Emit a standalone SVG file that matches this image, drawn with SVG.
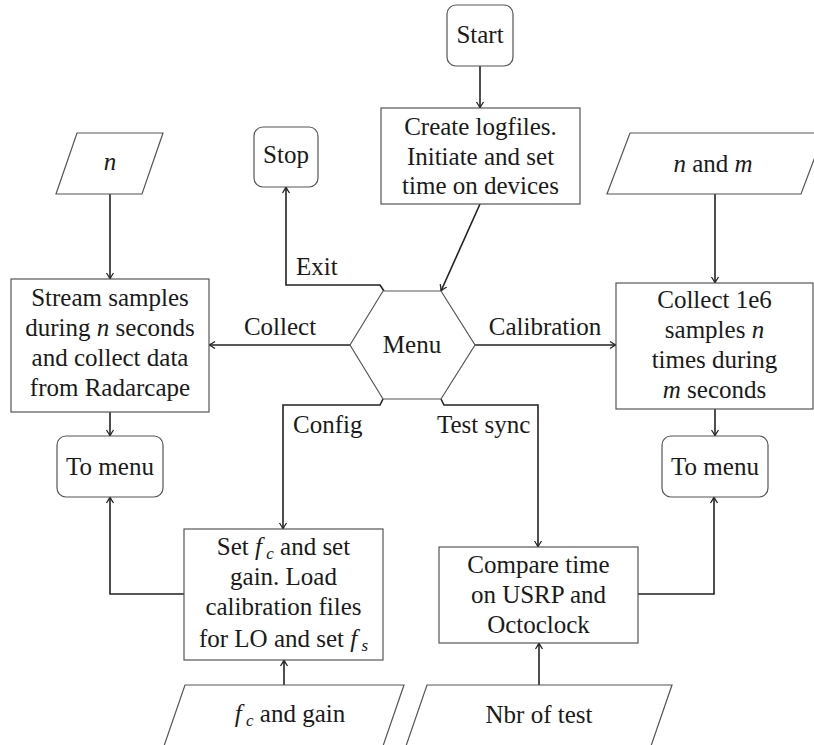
<svg xmlns="http://www.w3.org/2000/svg" width="814" height="745" viewBox="0 0 814 745">
<defs>
<style>
text{font-family:"Liberation Serif","Times New Roman",serif;font-size:25px;fill:#1a1a1a;text-anchor:middle}
.lab{text-anchor:start}
.box{fill:#fff;stroke:#555;stroke-width:1.2}
.con{fill:none;stroke:#222;stroke-width:1.6}
.i{font-style:italic}
.sub{font-style:italic;font-size:17px}
</style>
<marker id="arr" viewBox="-8 -5 10 10" refX="0" refY="0" markerWidth="10" markerHeight="10" orient="auto" markerUnits="userSpaceOnUse">
<path d="M-6,-3.5 Q-2,-0.8 0,0 Q-2,0.8 -6,3.5" fill="none" stroke="#222" stroke-width="1.3"/>
</marker>
</defs>
<rect width="814" height="745" fill="#fff"/>

<g id="connectors">
<path class="con" d="M480,66 L480,108" marker-end="url(#arr)"/>
<path class="con" d="M480,204 L441,291" marker-end="url(#arr)"/>
<path class="con" d="M384,291 L380,285 L286,285 L286,187" marker-end="url(#arr)"/>
<path class="con" d="M350,345 L209,345" marker-end="url(#arr)"/>
<path class="con" d="M475,345 L616,345" marker-end="url(#arr)"/>
<path class="con" d="M383,399 L380,405 L283,405 L283,529" marker-end="url(#arr)"/>
<path class="con" d="M441,399 L444,405 L538,405 L538,547" marker-end="url(#arr)"/>
<path class="con" d="M110,194 L110,279" marker-end="url(#arr)"/>
<path class="con" d="M110,412 L110,436" marker-end="url(#arr)"/>
<path class="con" d="M184,594 L110,594 L110,497" marker-end="url(#arr)"/>
<path class="con" d="M715,194 L715,283" marker-end="url(#arr)"/>
<path class="con" d="M715,409 L715,436" marker-end="url(#arr)"/>
<path class="con" d="M638,594 L714,594 L714,497" marker-end="url(#arr)"/>
<path class="con" d="M284,685 L284,660" marker-end="url(#arr)"/>
<path class="con" d="M539,685 L539,643" marker-end="url(#arr)"/>
<text class="lab" x="296" y="275">Exit</text>
<text x="280" y="335">Collect</text>
<text x="545" y="335">Calibration</text>
<text class="lab" x="293" y="433">Config</text>
<text class="lab" x="437" y="433">Test sync</text>
</g>

<g id="start">
<rect class="box" x="447" y="5" width="66" height="61" rx="9"/>
<text x="480" y="43">Start</text>
</g>

<g id="create">
<rect class="box" x="381" y="108" width="199" height="96"/>
<text x="480.5" y="135">Create logfiles.</text>
<text x="480.5" y="165">Initiate and set</text>
<text x="480.5" y="194">time on devices</text>
</g>

<g id="stop">
<rect class="box" x="254" y="127" width="64" height="60" rx="9"/>
<text x="286" y="163">Stop</text>
</g>

<g id="menu">
<polygon class="box" points="350,345 383,291 441,291 475,345 441,399 383,399"/>
<text x="412" y="353">Menu</text>
</g>

<g id="input-n">
<polygon class="box" points="77,133 163,133 142,194 56,194"/>
<text x="110" y="170" class="i">n</text>
</g>

<g id="stream">
<rect class="box" x="11" y="279" width="198" height="133"/>
<text x="110" y="306">Stream samples</text>
<text x="110" y="336">during <tspan class="i">n</tspan> seconds</text>
<text x="110" y="366">and collect data</text>
<text x="110" y="396">from Radarcape</text>
</g>

<g id="tomenu-left">
<rect class="box" x="57" y="436" width="106" height="61" rx="9"/>
<text x="110" y="475">To menu</text>
</g>

<g id="input-nm">
<polygon class="box" points="630,133 824,133 801,194 607,194"/>
<text x="713" y="172"><tspan class="i">n</tspan> and <tspan class="i">m</tspan></text>
</g>

<g id="collect">
<rect class="box" x="616" y="283" width="197" height="126"/>
<text x="714.5" y="308">Collect 1e6</text>
<text x="714.5" y="338">samples <tspan class="i">n</tspan></text>
<text x="714.5" y="368">times during</text>
<text x="714.5" y="398"><tspan class="i">m</tspan> seconds</text>
</g>

<g id="tomenu-right">
<rect class="box" x="662" y="436" width="106" height="61" rx="9"/>
<text x="715" y="475">To menu</text>
</g>

<g id="config">
<rect class="box" x="184" y="529" width="199" height="131"/>
<text x="283.5" y="555">Set <tspan class="i">f</tspan><tspan class="sub" dy="4"> c</tspan><tspan dy="-4">  and set</tspan></text>
<text x="283.5" y="585">gain.  Load</text>
<text x="283.5" y="615">calibration files</text>
<text x="283.5" y="647">for LO and set <tspan class="i">f</tspan><tspan class="sub" dy="4"> s</tspan></text>
</g>

<g id="compare">
<rect class="box" x="439" y="547" width="199" height="96"/>
<text x="538.5" y="573">Compare time</text>
<text x="538.5" y="603">on USRP and</text>
<text x="538.5" y="633">Octoclock</text>
</g>

<g id="input-fc">
<polygon class="box" points="185,685 404,685 383,746 164,746"/>
<text x="290" y="722"><tspan class="i">f</tspan><tspan class="sub" dy="4"> c</tspan><tspan dy="-4"> and gain</tspan></text>
</g>

<g id="input-nbr">
<polygon class="box" points="427,685 672,685 651,746 406,746"/>
<text x="539" y="723">Nbr of test</text>
</g>
</svg>
